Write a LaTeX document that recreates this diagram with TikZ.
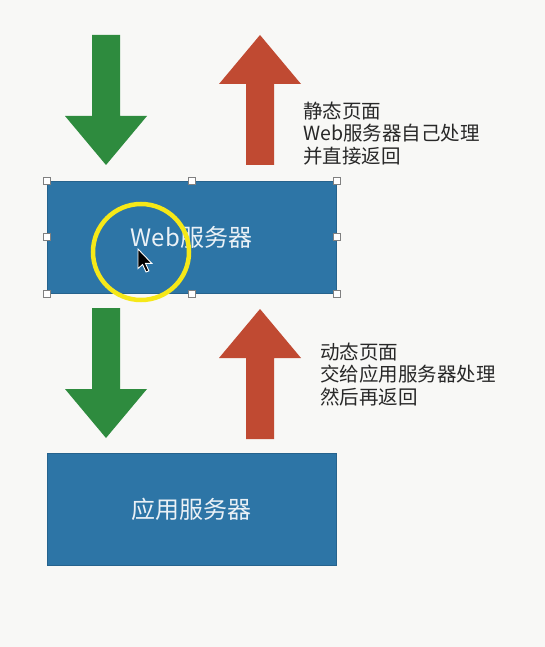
\documentclass[tikz,border=0pt]{standalone}
\usepackage{fontspec}
\setmainfont{Noto Sans CJK SC}
\usetikzlibrary{positioning}
\definecolor{boxblue}{RGB}{45,117,166}
\definecolor{arrowgreen}{RGB}{46,139,62}
\definecolor{arrowred}{RGB}{192,74,50}
\definecolor{paper}{RGB}{248,248,246}
\definecolor{notegray}{RGB}{40,40,40}
\definecolor{marker}{RGB}{246,232,24}
\tikzset{x=1pt, y=-1pt, font=\fontsize{19.5}{22.5}\selectfont}
\tikzstyle{server} = [fill=boxblue, draw=boxblue!85!black, line width=0.6pt, rectangle, minimum width=289pt, minimum height=112pt, text=white!90!boxblue, font=\fontsize{24}{24}\selectfont, inner sep=0pt]
\tikzstyle{note} = [align=left, anchor=north west, inner sep=0pt, text=notegray]
\tikzstyle{handle} = [draw=gray, fill=white, rectangle, minimum size=7pt, inner sep=0pt, line width=0.6pt]
\tikzset{flow/.pic={\fill[#1] (-14,0) -- (14,0) -- (14,81) -- (41,81) -- (0,130) -- (-41,81) -- (-14,81) -- cycle;}}

\begin{document}
\begin{tikzpicture}
	\fill[paper] (0,0) rectangle (545,647);
	\useasboundingbox (0,0) rectangle (545,647);

	\node [server] (web) at (191.5,237) {Web服务器};
	\node [server, below=160pt of web] (app) {应用服务器};

	% request and response arrows
	\pic (req1) at (106,35) {flow=arrowgreen};
	\pic [rotate=180] (res1) at (260,165) {flow=arrowred};
	\pic (req2) at (106,308) {flow=arrowgreen};
	\pic [rotate=180] (res2) at (260,439) {flow=arrowred};

	\node [note] (static) at (303,101.5) {静态页面\\Web服务器自己处理\\并直接返回};
	\node [note] (dynamic) at (320,342.5) {动态页面\\交给应用服务器处理\\然后再返回};

	% selection handles
	\foreach \a [count=\i] in {north west, north, north east, west, east, south west, south, south east}
		\node [handle] (h\i) at (web.\a) {};

	% pointer highlight
	\draw [marker, line width=4.5pt] (141,252) circle (48pt);
	\filldraw [fill=black, draw=white, line width=0.9pt, shift={(138,249)}, scale=1.15]
		(0,0) -- (0,17) -- (4,13.5) -- (7,20) -- (9.5,19) -- (6.5,12.5) -- (12,12.5) -- cycle;
\end{tikzpicture}
\end{document}
